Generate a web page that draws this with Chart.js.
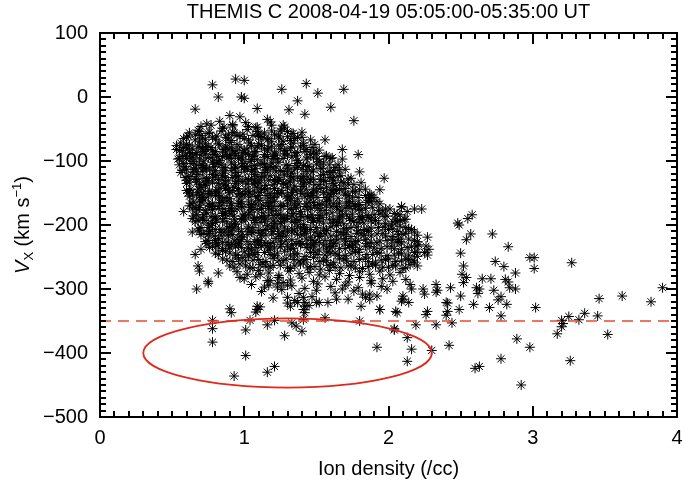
<!DOCTYPE html>
<html>
<head>
<meta charset="utf-8">
<script src="https://cdn.jsdelivr.net/npm/chart.js@4.4.1/dist/chart.umd.min.js"></script>
<style>
html, body { margin: 0; padding: 0; background: #fff; }
#wrap { width: 685px; height: 483px; position: relative; }
</style>
</head>
<body>
<div id="wrap"><canvas id="chart"></canvas></div>
<script>
const titleText = 'THEMIS C 2008-04-19 05:05:00-05:35:00 UT';
const xTitle = 'Ion density (/cc)';
const xRange = [0, 4];
const yRange = [-500, 100];
const thresholdVx = -350;
// ellipse: centre density, centre Vx, half-width, half-height
const lowVxRegion = [1.3, -400, 1.0, 54];

// [density, Vx], dense core first
const corePoints = [
	[0.97,-31],[1.16,-35],
	[0.74,-42],[0.83,-38],[0.92,-45],[1.01,-40],[1.09,-47],[1.18,-39],[1.27,-44],
	[0.68,-52],[0.76,-55],[0.85,-49],[0.93,-56],[1.02,-51],[1.1,-58],[1.19,-53],[1.26,-50],[1.34,-57],
	[0.6,-63],[0.66,-59],[0.73,-66],[0.81,-61],[0.88,-64],[0.95,-60],[1.03,-67],[1.11,-62],[1.17,-65],[1.24,-61],[1.32,-68],[1.4,-63],
	[0.56,-72],[0.62,-75],[0.69,-70],[0.75,-77],[0.82,-73],[0.9,-71],[0.97,-78],[1.04,-72],[1.12,-76],[1.19,-70],[1.26,-74],[1.33,-78],[1.41,-72],[1.47,-79],
	[0.55,-84],[0.61,-81],[0.67,-87],[0.74,-82],[0.8,-85],[0.87,-80],[0.93,-88],[1.0,-83],[1.07,-86],[1.14,-81],[1.21,-89],[1.28,-84],[1.35,-87],[1.43,-82],[1.5,-88],
	[0.57,-93],[0.63,-97],[0.7,-91],[0.77,-95],[0.83,-99],[0.9,-92],[0.96,-96],[1.03,-90],[1.09,-98],[1.16,-93],[1.23,-97],[1.3,-91],[1.37,-99],[1.44,-94],[1.51,-97],[1.57,-92],
	[0.58,-104],[0.65,-101],[0.71,-107],[0.78,-102],[0.84,-106],[0.91,-103],[0.98,-108],[1.04,-101],[1.11,-105],[1.18,-109],[1.24,-102],[1.31,-107],[1.38,-103],[1.45,-108],[1.52,-101],[1.59,-106],[1.63,-110],
	[0.6,-113],[0.67,-117],[0.73,-111],[0.8,-115],[0.86,-119],[0.93,-112],[1.0,-116],[1.06,-114],[1.13,-118],[1.2,-111],[1.27,-116],[1.33,-119],[1.4,-113],[1.47,-117],[1.54,-112],[1.6,-118],[1.66,-114],
	[0.61,-124],[0.68,-121],[0.74,-127],[0.81,-122],[0.87,-126],[0.94,-123],[1.01,-128],[1.07,-121],[1.14,-125],[1.21,-129],[1.28,-122],[1.34,-127],[1.41,-124],[1.48,-128],[1.55,-121],[1.61,-126],[1.67,-123],[1.72,-128],
	[0.62,-133],[0.69,-137],[0.75,-131],[0.82,-135],[0.88,-139],[0.95,-132],[1.02,-136],[1.08,-134],[1.15,-138],[1.22,-131],[1.29,-136],[1.35,-139],[1.42,-133],[1.49,-137],[1.56,-132],[1.63,-138],[1.69,-134],[1.76,-137],
	[0.63,-144],[0.7,-141],[0.76,-147],[0.83,-142],[0.89,-146],[0.96,-143],[1.03,-148],[1.09,-141],[1.16,-145],[1.23,-149],[1.3,-142],[1.36,-147],[1.43,-144],[1.5,-148],[1.57,-141],[1.64,-146],[1.7,-143],[1.77,-148],[1.84,-144],
	[0.64,-153],[0.71,-157],[0.77,-151],[0.84,-155],[0.9,-159],[0.97,-152],[1.04,-156],[1.1,-154],[1.17,-158],[1.24,-151],[1.31,-156],[1.37,-159],[1.44,-153],[1.51,-157],[1.58,-152],[1.65,-158],[1.72,-154],[1.79,-157],[1.87,-153],
	[0.65,-164],[0.72,-161],[0.78,-167],[0.85,-162],[0.91,-166],[0.98,-163],[1.05,-168],[1.11,-161],[1.18,-165],[1.25,-169],[1.32,-162],[1.38,-167],[1.45,-164],[1.52,-168],[1.59,-161],[1.66,-166],[1.73,-163],[1.8,-168],[1.88,-164],[1.94,-167],
	[0.66,-173],[0.73,-177],[0.79,-171],[0.86,-175],[0.92,-179],[0.99,-172],[1.06,-176],[1.12,-174],[1.19,-178],[1.26,-171],[1.33,-176],[1.39,-179],[1.46,-173],[1.53,-177],[1.6,-172],[1.67,-178],[1.74,-174],[1.81,-177],[1.89,-173],[1.96,-178],[2.01,-175],
	[0.67,-184],[0.74,-181],[0.8,-187],[0.87,-182],[0.93,-186],[1.0,-183],[1.07,-188],[1.13,-181],[1.2,-185],[1.27,-189],[1.34,-182],[1.4,-187],[1.47,-184],[1.54,-188],[1.61,-181],[1.68,-186],[1.75,-183],[1.82,-188],[1.9,-184],[1.97,-187],[2.04,-182],
	[0.68,-193],[0.75,-197],[0.81,-191],[0.88,-195],[0.94,-199],[1.01,-192],[1.08,-196],[1.14,-194],[1.21,-198],[1.28,-191],[1.35,-196],[1.41,-199],[1.48,-193],[1.55,-197],[1.62,-192],[1.69,-198],[1.76,-194],[1.83,-197],[1.91,-193],[1.98,-198],[2.06,-195],[2.11,-191],
	[0.7,-204],[0.77,-201],[0.83,-207],[0.9,-202],[0.96,-206],[1.03,-203],[1.1,-208],[1.16,-201],[1.23,-205],[1.3,-209],[1.37,-202],[1.43,-207],[1.5,-204],[1.57,-208],[1.64,-201],[1.71,-206],[1.78,-203],[1.85,-208],[1.93,-204],[2.0,-207],[2.08,-202],[2.14,-206],
	[0.72,-213],[0.79,-217],[0.86,-211],[0.92,-215],[0.99,-219],[1.06,-212],[1.12,-216],[1.19,-214],[1.26,-218],[1.33,-211],[1.4,-216],[1.46,-219],[1.53,-213],[1.6,-217],[1.67,-212],[1.74,-218],[1.81,-214],[1.88,-217],[1.96,-213],[2.03,-218],[2.1,-214],[2.18,-211],
	[0.75,-224],[0.82,-221],[0.88,-227],[0.95,-222],[1.02,-226],[1.09,-223],[1.15,-228],[1.22,-221],[1.29,-225],[1.36,-229],[1.43,-222],[1.49,-227],[1.56,-224],[1.63,-228],[1.7,-221],[1.77,-226],[1.84,-223],[1.92,-228],[1.99,-224],[2.06,-227],[2.14,-222],[2.2,-226],
	[0.78,-233],[0.85,-237],[0.91,-231],[0.98,-235],[1.05,-239],[1.12,-232],[1.18,-236],[1.25,-234],[1.32,-238],[1.39,-231],[1.46,-236],[1.52,-239],[1.59,-233],[1.66,-237],[1.73,-232],[1.8,-238],[1.87,-234],[1.95,-237],[2.02,-233],[2.09,-238],[2.16,-234],[2.21,-231],
	[0.8,-244],[0.87,-241],[0.94,-247],[1.0,-242],[1.07,-246],[1.14,-243],[1.21,-248],[1.28,-241],[1.35,-245],[1.42,-249],[1.49,-242],[1.56,-247],[1.63,-244],[1.7,-248],[1.77,-241],[1.85,-246],[1.92,-243],[1.99,-248],[2.07,-244],[2.14,-247],[2.2,-242],
	[0.85,-253],[0.92,-257],[0.99,-251],[1.06,-255],[1.13,-259],[1.2,-252],[1.27,-256],[1.34,-254],[1.41,-258],[1.48,-251],[1.55,-256],[1.62,-259],[1.69,-253],[1.76,-257],[1.84,-252],[1.91,-258],[1.98,-254],[2.05,-257],[2.12,-253],[2.18,-258],
	[0.9,-264],[0.97,-261],[1.04,-267],[1.11,-262],[1.18,-266],[1.25,-263],[1.32,-268],[1.39,-261],[1.46,-265],[1.53,-269],[1.6,-262],[1.67,-267],[1.74,-264],[1.82,-268],[1.89,-261],[1.96,-266],[2.03,-263],[2.1,-268],[2.15,-262],
	[0.95,-273],[1.02,-277],[1.1,-271],[1.17,-275],[1.24,-279],[1.31,-272],[1.38,-276],[1.45,-274],[1.52,-278],[1.59,-271],[1.66,-276],[1.73,-279],[1.8,-273],[1.87,-277],[1.94,-272],[2.01,-278],[2.08,-274],
	[1.0,-284],[1.08,-281],[1.16,-287],[1.24,-282],[1.32,-286],[1.4,-283],[1.48,-288],[1.56,-281],[1.64,-285],[1.72,-289],[1.8,-282],[1.88,-287],[1.96,-284],[2.03,-288],
	[1.05,-293],[1.14,-297],[1.23,-291],[1.33,-295],[1.42,-299],[1.51,-292],[1.6,-296],[1.7,-294],[1.79,-298],[1.88,-291],[1.95,-296],
	[1.12,-304],[1.26,-301],[1.38,-307],[1.5,-302],[1.63,-306],[1.76,-303],[1.87,-308],
	[1.2,-314],[1.35,-318],[1.47,-312],[1.58,-321],[1.72,-316],[1.84,-313],[1.45,-326],[1.3,-322],
	[0.63,-88],[0.7,-79],[0.72,-100],[0.79,-90],[0.86,-110],[0.78,-121],[0.92,-84],[0.99,-98],[1.06,-93],[1.13,-104],[1.2,-96],
	[0.66,-128],[0.73,-138],[0.8,-148],[0.86,-131],[0.93,-141],[1.0,-152],[1.07,-131],[1.14,-143],[1.21,-156],[1.27,-135],
	[0.69,-161],[0.76,-170],[0.83,-158],[0.9,-174],[0.97,-166],[1.04,-180],[1.1,-162],[1.17,-171],[1.24,-184],[1.3,-158],
	[0.71,-189],[0.78,-198],[0.85,-182],[0.91,-203],[0.98,-190],[1.05,-211],[1.12,-188],[1.19,-203],[1.26,-195],[1.33,-186],
	[0.74,-111],[0.81,-102],[0.88,-95],[0.95,-118],[1.02,-109],[1.09,-124],[1.16,-114],[1.23,-132],[1.3,-116],[1.37,-125],
	[0.6,-96],[0.62,-146],[0.64,-117],[0.67,-106],[0.7,-153],[0.68,-176],[0.75,-214],[0.8,-227],[0.85,-240],[0.89,-217],
	[0.96,-231],[1.03,-248],[1.1,-227],[1.17,-239],[1.24,-214],[1.4,-140],[1.46,-155],[1.53,-129],[1.47,-189],[1.54,-167],
	[1.6,-145],[1.39,-205],[1.44,-230],[1.52,-218],[1.58,-242],[1.65,-196],[1.7,-225],[0.53,-82],[0.54,-97],[0.56,-118]
];

// second pass over the cloud, between the rows above
const coreFill = [
	[0.7,-46],[0.77,-44],[0.86,-47],[0.92,-43],[1.03,-46],[1.08,-48],[1.19,-44],[1.28,-47],
	[0.62,-56],[0.69,-54],[0.75,-57],[0.84,-53],[0.92,-55],[0.99,-58],[1.09,-54],[1.14,-56],[1.25,-53],[1.33,-57],[1.4,-55],
	[0.58,-65],[0.66,-67],[0.71,-64],[0.8,-66],[0.87,-63],[0.91,-68],[1.0,-65],[1.1,-62],[1.16,-67],[1.24,-64],[1.27,-69],[1.35,-65],[1.46,-67],
	[0.53,-76],[0.6,-74],[0.68,-77],[0.73,-73],[0.83,-75],[0.88,-78],[0.95,-74],[1.05,-76],[1.1,-73],[1.19,-77],[1.24,-75],[1.34,-72],[1.41,-76],[1.49,-74],
	[0.57,-84],[0.62,-87],[0.72,-85],[0.78,-83],[0.85,-86],[0.95,-84],[0.99,-87],[1.08,-85],[1.16,-83],[1.21,-86],[1.29,-84],[1.37,-87],[1.42,-85],[1.52,-83],
	[0.55,-96],[0.64,-94],[0.69,-97],[0.75,-95],[0.85,-93],[0.91,-96],[0.98,-94],[1.05,-98],[1.14,-95],[1.2,-93],[1.27,-96],[1.33,-94],[1.43,-97],[1.48,-95],[1.56,-93],[1.6,-96],
	[0.55,-106],[0.63,-104],[0.7,-107],[0.79,-105],[0.82,-103],[0.93,-106],[0.99,-104],[1.07,-107],[1.14,-105],[1.19,-103],[1.29,-106],[1.36,-104],[1.41,-107],[1.5,-105],[1.55,-103],[1.65,-106],
	[0.57,-115],[0.65,-113],[0.71,-116],[0.76,-114],[0.85,-117],[0.91,-115],[1.02,-113],[1.05,-116],[1.15,-114],[1.22,-117],[1.25,-115],[1.35,-113],[1.43,-116],[1.48,-114],[1.58,-117],[1.62,-115],[1.7,-113],
	[0.59,-126],[0.63,-124],[0.72,-127],[0.79,-125],[0.85,-123],[0.92,-126],[0.96,-124],[1.05,-127],[1.12,-125],[1.18,-123],[1.24,-126],[1.32,-124],[1.4,-127],[1.44,-125],[1.53,-123],[1.59,-126],[1.65,-124],[1.74,-127],
	[0.6,-135],[0.67,-133],[0.73,-136],[0.78,-134],[0.86,-137],[0.94,-135],[0.99,-133],[1.06,-136],[1.11,-134],[1.2,-137],[1.27,-135],[1.31,-133],[1.41,-136],[1.45,-134],[1.52,-137],[1.61,-135],[1.67,-133],[1.72,-136],[1.81,-134],
	[0.6,-146],[0.68,-144],[0.72,-147],[0.81,-145],[0.87,-143],[0.92,-146],[1.01,-144],[1.07,-147],[1.12,-145],[1.21,-143],[1.26,-146],[1.34,-144],[1.39,-147],[1.48,-145],[1.53,-143],[1.62,-146],[1.66,-144],[1.75,-147],[1.8,-145],
	[0.62,-155],[0.67,-153],[0.75,-156],[0.8,-154],[0.88,-157],[0.95,-155],[0.99,-153],[1.08,-156],[1.15,-154],[1.2,-157],[1.29,-155],[1.33,-153],[1.42,-156],[1.47,-154],[1.56,-157],[1.6,-155],[1.7,-153],[1.75,-156],[1.84,-154],[1.9,-157],
	[0.63,-166],[0.7,-164],[0.75,-167],[0.83,-165],[0.88,-163],[0.96,-166],[1.03,-164],[1.08,-167],[1.16,-165],[1.21,-163],[1.3,-166],[1.35,-164],[1.43,-167],[1.48,-165],[1.57,-163],[1.62,-166],[1.71,-164],[1.76,-167],[1.85,-165],[1.92,-163],
	[0.64,-175],[0.69,-173],[0.78,-176],[0.82,-174],[0.91,-177],[0.95,-175],[1.04,-173],[1.09,-176],[1.17,-174],[1.22,-177],[1.31,-175],[1.36,-173],[1.44,-176],[1.51,-174],[1.56,-177],[1.65,-175],[1.7,-173],[1.79,-176],[1.84,-174],[1.93,-177],[1.98,-175],
	[0.65,-186],[0.72,-184],[0.77,-187],[0.85,-185],[0.9,-183],[0.99,-186],[1.03,-184],[1.12,-187],[1.17,-185],[1.25,-183],[1.3,-186],[1.39,-184],[1.44,-187],[1.52,-185],[1.57,-183],[1.66,-186],[1.71,-184],[1.8,-187],[1.85,-185],[1.94,-183],[1.99,-186],[2.08,-184],
	[0.66,-195],[0.72,-193],[0.8,-196],[0.85,-194],[0.93,-197],[0.98,-195],[1.07,-193],[1.11,-196],[1.2,-194],[1.25,-197],[1.33,-195],[1.38,-193],[1.47,-196],[1.52,-194],[1.61,-197],[1.65,-195],[1.74,-193],[1.79,-196],[1.88,-194],[1.93,-197],[2.03,-195],[2.08,-193],
	[0.68,-206],[0.75,-204],[0.8,-207],[0.88,-205],[0.93,-203],[1.02,-206],[1.06,-204],[1.15,-207],[1.2,-205],[1.28,-203],[1.33,-206],[1.42,-204],[1.46,-207],[1.55,-205],[1.6,-203],[1.69,-206],[1.74,-204],[1.83,-207],[1.88,-205],[1.97,-203],[2.03,-206],[2.12,-204],[2.16,-207],
	[0.7,-215],[0.76,-213],[0.84,-216],[0.89,-214],[0.97,-217],[1.02,-215],[1.11,-213],[1.15,-216],[1.24,-214],[1.29,-217],[1.37,-215],[1.42,-213],[1.51,-216],[1.56,-214],[1.64,-217],[1.69,-215],[1.78,-213],[1.83,-216],[1.92,-214],[1.98,-217],[2.07,-215],[2.12,-213],[2.2,-216],
	[0.73,-226],[0.8,-224],[0.85,-227],[0.93,-225],[0.98,-223],[1.07,-226],[1.11,-224],[1.2,-227],[1.25,-225],[1.33,-223],[1.38,-226],[1.47,-224],[1.52,-227],[1.6,-225],[1.65,-223],[1.74,-226],[1.79,-224],[1.88,-227],[1.94,-225],[2.03,-223],[2.08,-226],[2.18,-224],
	[0.76,-235],[0.81,-233],[0.9,-236],[0.94,-234],[1.03,-237],[1.08,-235],[1.16,-233],[1.21,-236],[1.3,-234],[1.34,-237],[1.43,-235],[1.48,-233],[1.57,-236],[1.61,-234],[1.7,-237],[1.75,-235],[1.84,-233],[1.9,-236],[1.99,-234],[2.04,-237],[2.13,-235],[2.19,-233],
	[0.82,-246],[0.9,-244],[0.95,-247],[1.04,-245],[1.09,-243],[1.18,-246],[1.23,-244],[1.32,-247],[1.37,-245],[1.46,-243],[1.51,-246],[1.6,-244],[1.65,-247],[1.74,-245],[1.79,-243],[1.89,-246],[1.94,-244],[2.04,-247],[2.09,-245],[2.18,-243],
	[0.88,-255],[0.96,-253],[1.01,-256],[1.1,-254],[1.15,-257],[1.24,-255],[1.29,-253],[1.38,-256],[1.43,-254],[1.52,-257],[1.57,-255],[1.66,-253],[1.71,-256],[1.8,-254],[1.86,-257],[1.95,-255],[2.0,-253],[2.09,-256],[2.14,-254],
	[0.93,-266],[1.01,-264],[1.06,-267],[1.15,-265],[1.2,-263],[1.3,-266],[1.35,-264],[1.44,-267],[1.49,-265],[1.58,-263],[1.63,-266],[1.72,-264],[1.77,-267],[1.86,-265],[1.91,-263],[2.0,-266],[2.05,-264],[2.12,-267]
];

// third pass, only where the cloud is close to solid black
const coreDark = [
	[0.61,-61],[0.7,-60],[0.78,-63],[0.89,-59],[0.97,-62],[1.06,-60],[1.13,-63],[1.21,-59],[1.3,-62],
	[0.58,-79],[0.64,-80],[0.71,-81],[0.77,-79],[0.86,-82],[0.91,-80],[1.02,-81],[1.09,-78],[1.17,-80],[1.25,-81],[1.32,-80],[1.39,-78],
	[0.59,-91],[0.66,-90],[0.73,-89],[0.81,-92],[0.88,-90],[0.94,-91],[1.01,-89],[1.07,-92],[1.14,-90],[1.22,-91],[1.28,-89],[1.36,-92],[1.46,-90],
	[0.59,-109],[0.66,-111],[0.72,-110],[0.79,-109],[0.87,-111],[0.94,-110],[1.0,-109],[1.08,-112],[1.15,-110],[1.22,-109],[1.3,-111],[1.37,-110],[1.44,-109],[1.53,-111],
	[0.6,-130],[0.67,-129],[0.74,-131],[0.82,-129],[0.89,-131],[0.96,-130],[1.03,-129],[1.1,-131],[1.17,-130],[1.24,-129],[1.32,-131],[1.39,-130],[1.46,-129],[1.55,-131],[1.62,-130],
	[0.61,-150],[0.68,-149],[0.75,-151],[0.82,-150],[0.9,-149],[0.97,-151],[1.04,-150],[1.11,-149],[1.18,-151],[1.26,-150],[1.33,-149],[1.4,-151],[1.47,-150],[1.55,-149],[1.62,-151],[1.7,-150],
	[0.62,-170],[0.69,-169],[0.77,-171],[0.84,-170],[0.91,-169],[0.98,-171],[1.05,-170],[1.13,-169],[1.2,-171],[1.27,-170],[1.35,-169],[1.42,-171],[1.49,-170],[1.57,-169],[1.64,-171],[1.72,-170],[1.79,-169],
	[0.64,-190],[0.71,-191],[0.79,-189],[0.86,-190],[0.93,-191],[1.0,-189],[1.07,-190],[1.15,-191],[1.22,-189],[1.29,-190],[1.36,-191],[1.44,-189],[1.51,-190],[1.59,-191],[1.66,-189],[1.73,-190],[1.81,-191],[1.88,-189],
	[0.69,-209],[0.76,-210],[0.84,-211],[0.91,-209],[0.98,-210],[1.05,-211],[1.13,-209],[1.2,-210],[1.27,-211],[1.35,-209],[1.42,-210],[1.49,-211],[1.57,-209],[1.64,-210],[1.71,-211],[1.79,-209],[1.86,-210],
	[0.74,-229],[0.82,-230],[0.89,-231],[0.96,-229],[1.04,-230],[1.11,-231],[1.18,-229],[1.26,-230],[1.33,-231],[1.4,-229],[1.48,-230],[1.55,-231],[1.62,-229],[1.7,-230],[1.77,-231],[1.85,-229]
];

// left / lower edge of the cloud
const edgePoints = [
	[0.58,-179],[0.64,-211],[0.7,-238],[0.66,-246],[0.68,-264],[0.69,-272],[0.75,-288],[0.67,-300],[0.75,-291],
	[0.82,-275],[0.97,-282],[0.9,-331],[1.09,-327],[1.11,-277],
	[1.17,-294],[1.18,-287],[1.23,-297],[1.27,-290],[1.3,-294],[1.3,-313],[1.37,-321],[1.32,-327],[1.41,-313],
	[1.42,-327],[1.52,-321],[1.64,-316],[1.68,-300],[1.82,-308],[1.87,-316],[1.92,-311],[1.94,-332],[1.99,-300],
	[2.06,-337],[2.1,-316],[2.14,-321],[2.24,-300],[2.34,-302],[2.27,-335],[2.41,-322]
];

// scattered points away from the cloud
const outliers = [
	[0.78,19],[0.94,28],[1.0,26],[0.82,0],[0.98,0],[1.0,-2],[0.66,-19],[0.9,-29],[1.26,12],[1.43,21],[1.51,6],
	[1.69,12],[1.37,-6],[1.31,-20],[1.42,-27],[1.6,-16],[1.09,-18],[1.3,-54],[1.56,-67],[1.48,-86],[1.61,-95],
	[1.68,-97],[1.68,-82],[1.37,-63],[1.76,-37],[1.79,-90],[1.8,-117],[1.97,-127],[1.94,-145],[1.88,-157],
	[1.86,-162],[2.09,-172],[2.18,-175],[2.23,-175],[1.66,-145],[1.77,-171],[1.86,-188],[2.05,-191],[2.12,-191],[2.48,-197],
	[2.72,-214],[2.83,-234],[2.74,-257],[2.8,-265],[2.88,-275],[2.98,-251],[3.01,-251],[3.01,-268],[3.27,-259],
	[2.65,-284],[2.71,-284],[2.81,-285],[2.83,-289],[2.63,-300],[2.73,-302],[2.84,-298],[2.88,-300],[2.78,-312],
	[2.76,-317],[2.82,-324],[2.7,-329],[3.02,-329],[2.78,-342],[3.2,-349],[3.21,-354],[3.2,-359],[3.17,-370],
	[3.25,-343],[3.32,-348],[3.36,-338],[3.46,-315],[3.45,-342],[3.52,-371],[3.62,-311],[3.82,-320],[3.9,-298],
	[2.89,-378],[2.98,-391],[2.78,-409],[3.26,-412],[2.92,-450],[2.63,-421],
	[1.87,-158],[1.88,-153],[2.09,-171],[2.13,-179],[2.06,-183],[2.49,-200],[2.55,-190],[2.58,-184],[2.54,-223],
	[2.57,-214],[2.27,-219],[2.26,-233],[2.28,-238],[2.25,-243],[2.27,-247],[2.2,-249],[2.17,-255],[2.2,-264],
	[2.5,-244],[2.52,-264],[2.51,-277],[2.54,-282],[2.52,-290],[2.61,-298],[2.62,-307],[2.59,-324],[2.5,-311],
	[2.49,-332],[2.43,-298],[2.4,-321],[2.41,-335],[2.4,-341],[2.33,-293],[2.33,-305],[2.25,-308],[2.26,-340],
	[2.19,-356],[2.33,-356],[2.44,-353],[2.15,-293],[2.12,-285],[2.1,-311],[2.09,-319],[2.16,-300],[2.05,-335],
	[1.94,-332],[1.81,-327],[1.8,-350],[2.04,-362],[2.02,-200],[2.06,-210],[2.07,-223],[2.09,-228],[2.3,-396],
	[2.42,-388],[2.6,-424],
	[0.78,-383],[0.78,-362],[0.78,-349],[0.91,-337],[1.01,-404],[0.93,-436],[1.16,-430],[1.21,-421],[1.01,-364],
	[1.09,-332],[1.11,-328],[1.08,-336],[1.04,-349],[1.28,-373],[1.16,-356],[1.21,-349],[1.33,-353],[1.36,-358],
	[1.4,-366],[1.41,-348],[1.42,-337],[1.41,-332],[1.42,-321],[1.5,-321],[1.56,-345],[1.92,-391],[2.04,-364],
	[2.13,-376],[2.16,-394],[2.13,-413]
];

const font = 'Liberation Sans';
const dashColor = '#e64a2e';
const ellipseColor = '#e0291c';
const minus = v => String(v).replace('-', '\u2212');

const toXY = list => list.map(([x, y]) => ({ x, y }));

// frame with inward ticks on all sides, the ellipse and the rotated y title
const axisFrame = {
	id: 'axisFrame',
	afterDraw(chart) {
		const { ctx, chartArea: a, scales } = chart;
		const sx = scales.x;
		const sy = scales.y;
		ctx.save();
		ctx.setLineDash([]);
		ctx.globalAlpha = 1;
		ctx.globalCompositeOperation = 'source-over';

		const [ex, ey, rx, ry] = lowVxRegion;
		const cx = sx.getPixelForValue(ex);
		const cy = sy.getPixelForValue(ey);
		ctx.strokeStyle = ellipseColor;
		ctx.lineWidth = 1.8;
		ctx.beginPath();
		ctx.ellipse(cx, cy, Math.abs(sx.getPixelForValue(ex + rx) - cx), Math.abs(sy.getPixelForValue(ey + ry) - cy), 0, 0, Math.PI * 2);
		ctx.stroke();

		const left = Math.round(a.left);
		const right = Math.round(a.right);
		const top = Math.round(a.top);
		const bottom = Math.round(a.bottom);
		ctx.fillStyle = '#000';
		for (let i = xRange[0] * 10; i <= xRange[1] * 10; i++) {
			const px = Math.round(sx.getPixelForValue(i / 10));
			const len = i % 10 === 0 ? 11 : 6;
			ctx.fillRect(px - 1, bottom - len, 2, len);
			ctx.fillRect(px - 1, top, 2, len);
		}
		for (let i = yRange[0] / 10; i <= yRange[1] / 10; i++) {
			const py = Math.round(sy.getPixelForValue(i * 10));
			const len = i % 10 === 0 ? 11 : 6;
			ctx.fillRect(left, py - 1, len, 2);
			ctx.fillRect(right - len, py - 1, len, 2);
		}
		ctx.fillRect(left - 1, top - 1, right - left + 2, 2);
		ctx.fillRect(left - 1, bottom - 1, right - left + 2, 2);
		ctx.fillRect(left - 1, top - 1, 2, bottom - top + 2);
		ctx.fillRect(right - 1, top - 1, 2, bottom - top + 2);

		// V_X (km s^-1)
		const parts = [
			{ t: 'V', f: `italic 20px "${font}"`, dy: 0 },
			{ t: 'X', f: `13px "${font}"`, dy: 4 },
			{ t: ' (km s', f: `20px "${font}"`, dy: 0 },
			{ t: '\u22121', f: `13px "${font}"`, dy: -8 },
			{ t: ')', f: `20px "${font}"`, dy: 0 }
		];
		let total = 0;
		parts.forEach(p => { ctx.font = p.f; p.w = ctx.measureText(p.t).width; total += p.w; });
		ctx.translate(22, (a.top + a.bottom) / 2);
		ctx.rotate(-Math.PI / 2);
		ctx.textBaseline = 'alphabetic';
		ctx.textAlign = 'left';
		let pos = -total / 2;
		parts.forEach(p => {
			ctx.font = p.f;
			ctx.fillText(p.t, pos, 7 + p.dy);
			pos += p.w;
		});
		ctx.restore();
	}
};

new Chart(document.getElementById('chart'), {
	type: 'scatter',
	data: {
		datasets: [
			{
				data: toXY([...corePoints, ...coreFill, ...coreDark, ...edgePoints, ...outliers]),
				pointStyle: 'star',
				pointRadius: 5,
				borderWidth: 1,
				borderColor: '#000',
				backgroundColor: 'rgba(0,0,0,0)',
				order: 2
			},
			{
				data: toXY([[xRange[0], thresholdVx], [xRange[1], thresholdVx]]),
				showLine: true,
				pointRadius: 0,
				borderColor: dashColor,
				borderWidth: 1.7,
				borderDash: [11, 7],
				order: 1
			}
		]
	},
	options: {
		responsive: true,
		maintainAspectRatio: false,
		animation: false,
		events: [],
		layout: { padding: 0 },
		plugins: {
			legend: { display: false },
			tooltip: { enabled: false },
			title: {
				display: true,
				fullSize: false,
				text: titleText,
				color: '#000',
				font: { family: font, size: 20, weight: 'normal' },
				padding: { top: 0, bottom: 9 }
			}
		},
		scales: {
			x: {
				type: 'linear',
				min: xRange[0],
				max: xRange[1],
				// fixed box so the plot area lands where the reference has it
				afterFit: s => {
					s.height = 66;
					s.paddingLeft = 0;
					s.paddingRight = 8;
				},
				grid: { display: false, drawTicks: false },
				border: { display: false },
				ticks: {
					stepSize: 1,
					color: '#000',
					padding: 9,
					maxRotation: 0,
					font: { family: font, size: 20 }
				},
				title: {
					display: true,
					text: xTitle,
					color: '#000',
					font: { family: font, size: 20 },
					padding: { top: 0, bottom: 2 }
				}
			},
			y: {
				type: 'linear',
				min: yRange[0],
				max: yRange[1],
				afterFit: s => { s.width = 100; },
				grid: { display: false, drawTicks: false },
				border: { display: false },
				ticks: {
					stepSize: 100,
					color: '#000',
					padding: 12,
					font: { family: font, size: 20 },
					callback: v => minus(v)
				}
			}
		}
	},
	plugins: [axisFrame]
});
</script>
</body>
</html>
